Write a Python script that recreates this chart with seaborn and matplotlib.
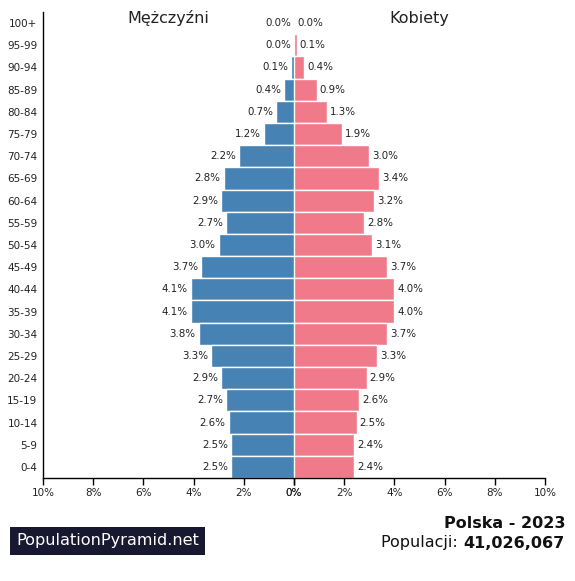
import pandas as pd
import seaborn as sns
import matplotlib.pyplot as plt
import matplotlib.ticker as mtick

# ----------------------------
# Data (Polska 2023, % of population)
# ----------------------------
age_groups = ["100+", "95-99", "90-94", "85-89", "80-84", "75-79", "70-74",
              "65-69", "60-64", "55-59", "50-54", "45-49", "40-44", "35-39",
              "30-34", "25-29", "20-24", "15-19", "10-14", "5-9", "0-4"]
men = [0.0, 0.0, 0.1, 0.4, 0.7, 1.2, 2.2, 2.8, 2.9, 2.7, 3.0, 3.7, 4.1, 4.1,
       3.8, 3.3, 2.9, 2.7, 2.6, 2.5, 2.5]
women = [0.0, 0.1, 0.4, 0.9, 1.3, 1.9, 3.0, 3.4, 3.2, 2.8, 3.1, 3.7, 4.0, 4.0,
         3.7, 3.3, 2.9, 2.6, 2.5, 2.4, 2.4]
x_ticks = [0, 2, 4, 6, 8, 10]

COLORS = {"men": "#4682b4", "women": "#f07a8a"}

sns.set_theme(style="white")
plt.rcParams["font.family"] = ["DejaVu Sans"]

df = pd.DataFrame({"age": age_groups, "men": men, "women": women})

fig = plt.figure(figsize=(5.75, 5.81), dpi=100)
ax_m = fig.add_axes([43 / 575, 103 / 581, 251 / 575, 466 / 581])
ax_w = fig.add_axes([294 / 575, 103 / 581, 251 / 575, 466 / 581], sharey=ax_m)

sns.barplot(data=df, y="age", x="men", orient="h", color=COLORS["men"],
            saturation=1, width=1.0, edgecolor="white", linewidth=1, ax=ax_m)
sns.barplot(data=df, y="age", x="women", orient="h", color=COLORS["women"],
            saturation=1, width=1.0, edgecolor="white", linewidth=1, ax=ax_w)

ax_m.set_xlim(10, 0)
ax_w.set_xlim(0, 10)
ax_m.set_ylim(len(age_groups) - 0.5, -0.5)

pct = mtick.FuncFormatter(lambda v, p: f"{v:.0f}%")
for ax in (ax_m, ax_w):
    ax.set_xticks(x_ticks)
    ax.xaxis.set_major_formatter(pct)
    ax.set_xlabel("")
    ax.set_ylabel("")
    ax.tick_params(axis="x", length=5, width=1, color="black", labelsize=7.5,
                   pad=2, bottom=True, labelcolor="#222222")
    for s in ("top", "right", "left"):
        ax.spines[s].set_visible(False)
    ax.spines["bottom"].set_color("black")
    ax.spines["bottom"].set_linewidth(1)

ax_m.spines["left"].set_visible(True)
ax_m.spines["left"].set_color("black")
ax_m.spines["left"].set_linewidth(1)
ax_m.tick_params(axis="y", length=0, labelsize=7.5, pad=4, labelcolor="#222222")
ax_w.tick_params(axis="y", left=False, labelleft=False)

# value labels
for i, (m, w) in enumerate(zip(men, women)):
    ax_m.text(m + 0.12, i, f"{m:.1f}%", ha="right", va="center", fontsize=7.4,
              color="#222222")
    ax_w.text(w + 0.12, i, f"{w:.1f}%", ha="left", va="center", fontsize=7.4,
              color="#222222")

fig.text(168 / 575, 1 - 18 / 581, "Mężczyźni", ha="center", va="center",
         fontsize=11.5, color="#222222")
fig.text(419 / 575, 1 - 18 / 581, "Kobiety", ha="center", va="center",
         fontsize=11.5, color="#222222")

# footer
fig.text(16 / 575, 1 - 541 / 581, "PopulationPyramid.net", ha="left",
         va="center", fontsize=11.6, color="white",
         bbox=dict(boxstyle="square,pad=0.38", fc="#181830", ec="none"))
fig.text(565 / 575, 1 - 523 / 581, "Polska - 2023", ha="right", va="center",
         fontsize=11.5, fontweight="bold", color="#111111")
num = fig.text(565 / 575, 1 - 543 / 581, "41,026,067", ha="right", va="center",
               fontsize=11.5, fontweight="bold", color="#111111")
renderer = fig.canvas.get_renderer()
bb = num.get_window_extent(renderer=renderer)
fig.text((bb.x0 - 1) / fig.bbox.width, 1 - 543 / 581, "Populacji: ",
         ha="right", va="center", fontsize=11.5, color="#111111")

fig.savefig("out.png", dpi=100)
